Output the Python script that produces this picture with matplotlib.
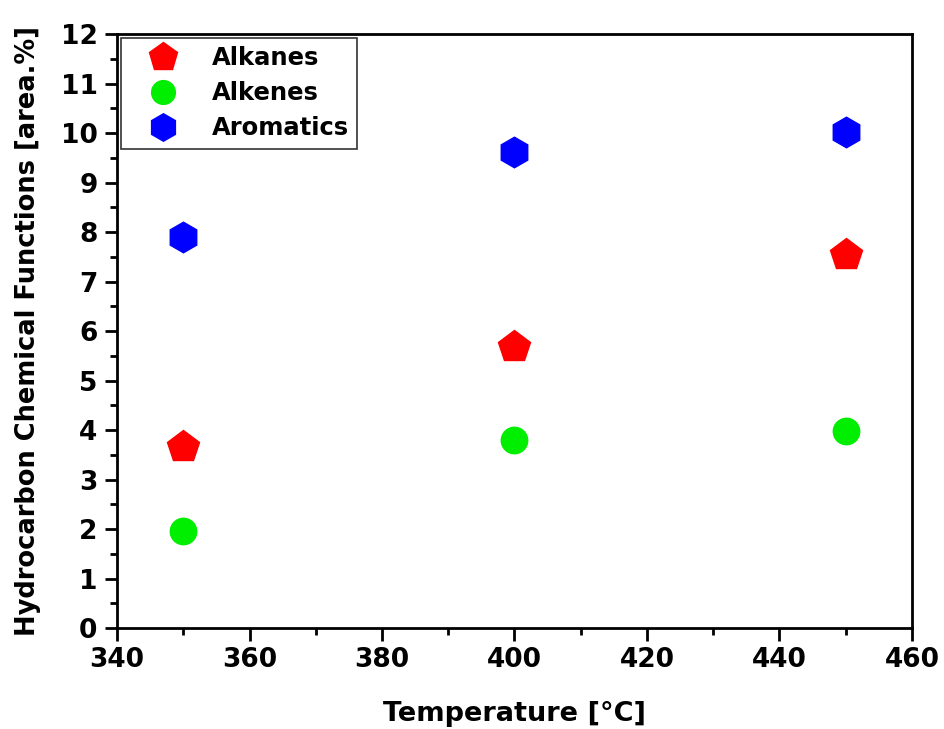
import matplotlib.pyplot as plt
from matplotlib.ticker import MultipleLocator

# composition of hydrocarbon groups vs. reaction temperature
temperature = [350, 400, 450]
alkanes = [3.66, 5.68, 7.54]
alkenes = [1.96, 3.80, 3.98]
aromatics = [7.90, 9.62, 10.02]

plt.rcParams["font.family"] = "DejaVu Sans"

fig = plt.figure(figsize=(9.44, 7.29), dpi=100)
ax = fig.add_axes([0.124, 0.1385, 0.842, 0.8145])

ax.plot(temperature, alkanes, "p", color="red", markersize=24, label="Alkanes", linestyle="none")
ax.plot(temperature, alkenes, "o", color="#00ee00", markersize=19, label="Alkenes", linestyle="none")
ax.plot(temperature, aromatics, "h", color="blue", markersize=22, label="Aromatics", linestyle="none")

ax.set_xlim(340, 460)
ax.set_ylim(0, 12)
ax.xaxis.set_major_locator(MultipleLocator(20))
ax.xaxis.set_minor_locator(MultipleLocator(10))
ax.yaxis.set_major_locator(MultipleLocator(1))
ax.yaxis.set_minor_locator(MultipleLocator(0.5))

for side in ax.spines.values():
    side.set_linewidth(2)
ax.tick_params(which="major", direction="out", length=9, width=2, labelsize=19, pad=5)
ax.tick_params(which="minor", direction="out", length=5, width=2)
for lbl in ax.get_xticklabels() + ax.get_yticklabels():
    lbl.set_fontweight("bold")

ax.set_xlabel("Temperature [°C]", fontsize=19.5, fontweight="bold", labelpad=20)
ax.set_ylabel("Hydrocarbon Chemical Functions [area.%]", fontsize=18.5, fontweight="bold", labelpad=14)

leg = ax.legend(loc="upper left", prop={"size": 17.5, "weight": "bold"}, frameon=True, fancybox=False,
                edgecolor="black", borderaxespad=0.15, handletextpad=0.6,
                labelspacing=0.45, borderpad=0.35, handlelength=2.8, markerscale=0.9)
leg.get_frame().set_linewidth(1.2)

fig.savefig("out.png", dpi=100)
